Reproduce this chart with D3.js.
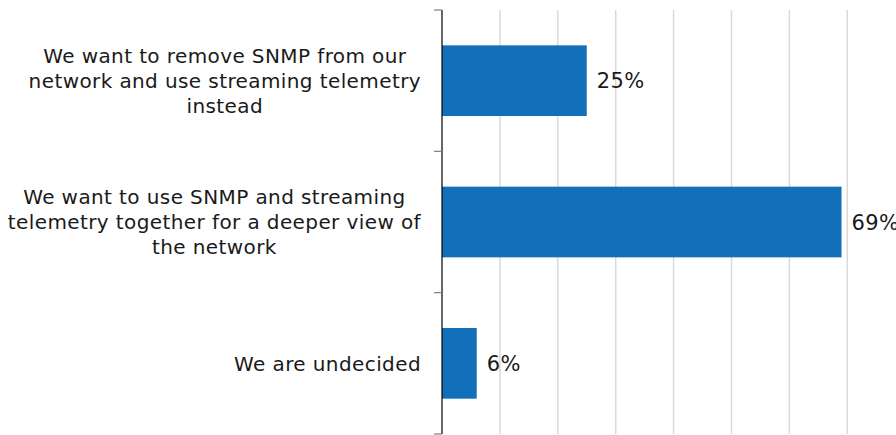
<!DOCTYPE html>
<html>
<head>
<meta charset="utf-8">
<script src="https://cdn.jsdelivr.net/npm/d3@7"></script>
<style>
  html, body { margin: 0; padding: 0; background: #fff; }
  svg { display: block; }
  text { font-family: "DejaVu Sans", Verdana, sans-serif; fill: #1a1a1a; }
</style>
</head>
<body>
<svg id="chart" width="896" height="435"></svg>
<script>
// Survey answers, one bar per answer (values in percent)
const categories = [
  ["We want to remove SNMP from our", "network and use streaming telemetry", "instead"],
  ["We want to use SNMP and streaming", "telemetry together for a deeper view of", "the network"],
  ["We are undecided"]
];
const values = [25, 69, 6];
const gridTicks = [0, 10, 20, 30, 40, 50, 60, 70];

const svg = d3.select("#chart");
const axisX = 442, plotTop = 10, plotBottom = 434;

const x = d3.scaleLinear().domain([0, 80]).range([axisX, axisX + 80 * 5.79]);
const y = d3.scaleBand().domain(d3.range(values.length)).range([plotTop, plotBottom]).paddingInner(0.5).paddingOuter(0.25);
const yOuter = d3.scaleBand().domain(d3.range(values.length)).range([plotTop, plotBottom]);

// vertical gridlines
svg.append("g").selectAll("line")
  .data(gridTicks.filter(d => d > 0))
  .join("line")
  .attr("x1", d => x(d)).attr("x2", d => x(d))
  .attr("y1", plotTop).attr("y2", plotBottom)
  .attr("stroke", "#d9d9d9").attr("stroke-width", 1.5);

// bars
svg.append("g").selectAll("rect")
  .data(values)
  .join("rect")
  .attr("x", x(0))
  .attr("y", (d, i) => y(i))
  .attr("width", d => x(d) - x(0))
  .attr("height", y.bandwidth())
  .attr("fill", "#1170b9");

// value labels
svg.append("g").selectAll("text")
  .data(values)
  .join("text")
  .attr("x", d => x(d) + 10)
  .attr("y", (d, i) => y(i) + y.bandwidth() / 2)
  .attr("dy", "0.36em")
  .attr("font-size", 21)
  .attr("letter-spacing", 0.4)
  .text(d => d + "%");

// category axis: line plus tick marks on band boundaries
const axisG = svg.append("g");
axisG.append("line")
  .attr("x1", axisX).attr("x2", axisX)
  .attr("y1", plotTop).attr("y2", plotBottom)
  .attr("stroke", "#000").attr("stroke-width", 1.2);
const boundaries = d3.range(values.length).map(i => yOuter(i)).concat([plotBottom]);
axisG.selectAll("line.tick")
  .data(boundaries)
  .join("line")
  .attr("class", "tick")
  .attr("x1", axisX - 8).attr("x2", axisX)
  .attr("y1", d => d).attr("y2", d => d)
  .attr("stroke", "#7f7f7f").attr("stroke-width", 1.2);

// category labels: each block right-aligned to the axis, lines centred within the block
const lineH = 25;
const labelRight = 421;
categories.forEach((lines, i) => {
  const g = svg.append("g");
  const cy = y(i) + y.bandwidth() / 2;
  const texts = g.selectAll("text")
    .data(lines)
    .join("text")
    .attr("font-size", 20)
    .attr("letter-spacing", 0.4)
    .attr("text-anchor", "middle")
    .attr("y", (d, j) => cy + (j - (lines.length - 1) / 2) * lineH)
    .attr("dy", "0.36em")
    .text(d => d);
  const maxW = d3.max(texts.nodes(), n => n.getComputedTextLength());
  texts.attr("x", labelRight - maxW / 2);
});
</script>
</body>
</html>
